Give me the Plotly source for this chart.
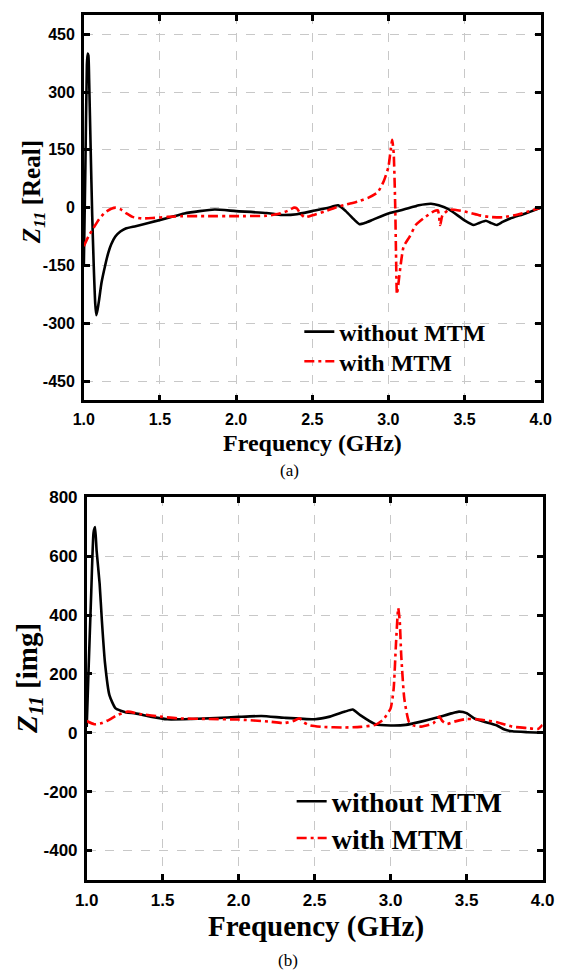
import plotly.graph_objects as go

# ---------------- data ----------------
# (a) Real part of Z11
freq_a_without = [1.00, 1.01, 1.02, 1.025, 1.03, 1.035, 1.045, 1.055, 1.065, 1.075, 1.082, 1.09, 1.10,
                  1.116, 1.14, 1.16, 1.18, 1.207, 1.24, 1.275, 1.34, 1.43, 1.55, 1.66, 1.76, 1.86, 2.00,
                  2.20, 2.30, 2.40, 2.50, 2.60, 2.67, 2.72, 2.78, 2.81, 2.85, 2.90, 3.00, 3.10, 3.20,
                  3.28, 3.33, 3.40, 3.50, 3.56, 3.60, 3.64, 3.67, 3.71, 3.75, 3.80, 3.90, 4.00]
real_without = [-150, 100, 370, 400, 395, 330, 150, -20, -150, -250, -279, -265, -240,
                -195, -150, -118, -95, -75, -62, -54, -48, -39, -27, -15, -9, -5, -9,
                -14, -19, -17, -9, -1, 6, -9, -33, -43, -39, -31, -15, -5, 6,
                10, 6, -5, -33, -45, -39, -34, -39, -45, -37, -28, -15, 0]

freq_a_with = [1.00, 1.03, 1.06, 1.10, 1.14, 1.18, 1.21, 1.24, 1.28, 1.32, 1.38, 1.45, 1.55, 1.65,
               1.80, 2.00, 2.20, 2.28, 2.34, 2.38, 2.40, 2.42, 2.45, 2.50, 2.58, 2.65, 2.72, 2.80,
               2.87, 2.93, 2.97, 3.00, 3.015, 3.025, 3.035, 3.045, 3.05, 3.056, 3.065, 3.08, 3.10,
               3.14, 3.18, 3.23, 3.30, 3.325, 3.34, 3.355, 3.40, 3.50, 3.60, 3.66, 3.75, 3.85,
               3.92, 4.00]
real_with = [-100, -75, -55, -30, -12, -3, 0, -4, -15, -24, -28, -27, -24, -22,
             -22, -22, -21, -16, -8, 0, -2, -15, -25, -20, -10, 0, 8, 16,
             26, 40, 69, 105, 150, 176, 140, 0, -120, -225, -200, -150, -101,
             -75, -45, -28, -9, -7, -45, -20, -5, -10, -20, -24, -25, -18,
             -10, 0]

# (b) Imaginary part of Z11
freq_b_without = [1.00, 1.01, 1.03, 1.045, 1.055, 1.065, 1.085, 1.10, 1.12, 1.15, 1.19, 1.26, 1.32,
                  1.42, 1.53, 1.69, 1.85, 2.00, 2.15, 2.30, 2.50, 2.60, 2.70, 2.75, 2.80, 2.90,
                  3.00, 3.10, 3.20, 3.30, 3.40, 3.45, 3.50, 3.55, 3.60, 3.70, 3.75, 3.80, 3.90, 4.00]
img_without = [20, 180, 480, 680, 699, 620, 507, 380, 239, 127, 83, 69, 66,
               55, 46, 47, 50, 54, 57, 51, 46, 55, 72, 79, 60, 29,
               25, 27, 38, 51, 66, 72, 67, 49, 40, 25, 11, 5, 2, 0]

freq_b_with = [1.00, 1.05, 1.10, 1.15, 1.20, 1.27, 1.35, 1.50, 1.60, 1.80, 2.00, 2.20, 2.30, 2.36,
               2.40, 2.43, 2.47, 2.55, 2.70, 2.80, 2.90, 2.95, 3.00, 3.02, 3.035, 3.05, 3.06, 3.07,
               3.09, 3.12, 3.15, 3.20, 3.28, 3.32, 3.34, 3.37, 3.42, 3.50, 3.60, 3.70, 3.80, 3.90,
               3.97, 4.00]
img_with = [40, 29, 33, 45, 60, 72, 64, 54, 49, 47, 45, 38, 33, 40,
            49, 35, 25, 20, 18, 20, 27, 44, 83, 150, 300, 424, 380, 261,
            116, 38, 25, 21, 32, 55, 40, 30, 38, 47, 44, 36, 21, 16,
            13, 27]

x_ticks = [1.0, 1.5, 2.0, 2.5, 3.0, 3.5, 4.0]
y_ticks_a = [-450, -300, -150, 0, 150, 300, 450]
y_ticks_b = [-400, -200, 0, 200, 400, 600, 800]

series_names = ["without MTM", "with MTM"]

# ---------------- styles ----------------
W, H = 568, 975
BLACK = "#000000"
RED = "#ff0000"
SERIF = "Liberation Serif, Times New Roman, serif"
SANS = "Liberation Sans, Arial, sans-serif"
RED_DASH = "10px,4px,3px,4px"
LW = 2.6

fig = go.Figure()

fig.add_trace(go.Scatter(x=freq_a_without, y=real_without, mode="lines", name=series_names[0],
                         line=dict(color=BLACK, width=LW, shape="spline", smoothing=0.5),
                         xaxis="x", yaxis="y", legend="legend"))
fig.add_trace(go.Scatter(x=freq_a_with, y=real_with, mode="lines", name=series_names[1],
                         line=dict(color=RED, width=LW, dash=RED_DASH, shape="spline", smoothing=0.5),
                         xaxis="x", yaxis="y", legend="legend2"))
fig.add_trace(go.Scatter(x=freq_b_without, y=img_without, mode="lines", name=series_names[0],
                         line=dict(color=BLACK, width=LW, shape="spline", smoothing=0.5),
                         xaxis="x2", yaxis="y2", legend="legend3"))
fig.add_trace(go.Scatter(x=freq_b_with, y=img_with, mode="lines", name=series_names[1],
                         line=dict(color=RED, width=LW, dash=RED_DASH, shape="spline", smoothing=0.5),
                         xaxis="x2", yaxis="y2", legend="legend4"))


def px_x(p):
    return p / W


def px_y(p):
    return 1 - p / H


def axis_common(tickvals, rng, size):
    return dict(
        range=rng, tickvals=tickvals,
        ticktext=[f"{v:.1f}" if isinstance(v, float) else str(v) for v in tickvals],
        showline=True, linecolor=BLACK, linewidth=2.5, mirror="ticks",
        ticks="inside", ticklen=6, tickwidth=2.5, tickcolor=BLACK,
        showgrid=True, gridcolor="#c8c8c8", gridwidth=1, griddash="dash",
        zeroline=False,
        tickfont=dict(family=SANS, size=size, color=BLACK, weight="bold"),
        ticklabelstandoff=3,
    )


def legend_at(xpx, ypx, size):
    return dict(x=px_x(xpx), y=px_y(ypx), xanchor="left", yanchor="middle",
                bgcolor="rgba(0,0,0,0)", borderwidth=0, tracegroupgap=0,
                font=dict(family=SERIF, size=size, color=BLACK, weight="bold"))


fig.update_layout(
    width=W, height=H, autosize=False,
    margin=dict(l=0, r=0, t=0, b=0, pad=0),
    paper_bgcolor="white", plot_bgcolor="white",
    xaxis=dict(domain=[px_x(75), px_x(552)], anchor="y", **axis_common(x_ticks, [1.0, 4.0], 16)),
    yaxis=dict(domain=[px_y(395), px_y(6)], anchor="x", **axis_common(y_ticks_a, [-500, 500], 16)),
    xaxis2=dict(domain=[px_x(78), px_x(554)], anchor="y2", **axis_common(x_ticks, [1.0, 4.0], 17)),
    yaxis2=dict(domain=[px_y(879), px_y(493)], anchor="x2", **axis_common(y_ticks_b, [-500, 800], 17)),
    legend=legend_at(300, 326, 24),
    legend2=legend_at(300, 356, 24),
    legend3=legend_at(292, 800, 28),
    legend4=legend_at(292, 837, 28),
    showlegend=True,
)

annotations = [
    dict(text="<b>Frequency (GHz)</b>", x=px_x(314), y=px_y(438), font=dict(family=SERIF, size=24, color=BLACK)),
    dict(text="(a)", x=px_x(290), y=px_y(466), font=dict(family=SERIF, size=17, color=BLACK)),
    dict(text="<b>Frequency (GHz)</b>", x=px_x(317), y=px_y(926), font=dict(family=SERIF, size=29, color=BLACK)),
    dict(text="(b)", x=px_x(288), y=px_y(960), font=dict(family=SERIF, size=17, color=BLACK)),
    dict(text="<b><i>Z</i><sub><i>11</i></sub> [Real]</b>", x=px_x(22), y=px_y(185), textangle=-90,
         font=dict(family=SERIF, size=25, color=BLACK)),
    dict(text="<b><i>Z</i><sub><i>11</i></sub> [img]</b>", x=px_x(17), y=px_y(676), textangle=-90,
         font=dict(family=SERIF, size=29, color=BLACK)),
]
for a in annotations:
    a.update(xref="paper", yref="paper", showarrow=False, xanchor="center", yanchor="middle")
fig.update_layout(annotations=annotations)

fig.write_html(
    "out.html",
    config={"displayModeBar": False},
    post_script="document.body.style.margin='0';document.body.style.padding='0';"
                "document.documentElement.style.overflow='hidden';",
)
